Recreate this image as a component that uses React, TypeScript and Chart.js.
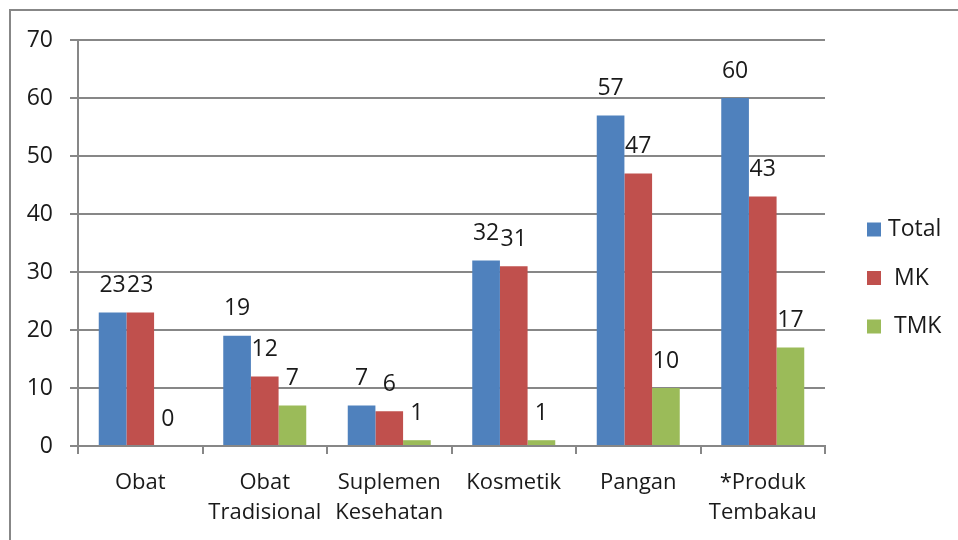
import React, { useEffect, useRef } from "react";
import { Chart, registerables } from "chart.js";

Chart.register(...registerables);

const categories: string[][] = [
  ["Obat"],
  ["Obat", "Tradisional"],
  ["Suplemen", "Kesehatan"],
  ["Kosmetik"],
  ["Pangan"],
  ["*Produk", "Tembakau"],
];
const totalValues = [23, 19, 7, 32, 57, 60];
const mkValues = [23, 12, 6, 31, 47, 43];
const tmkValues = [0, 7, 1, 1, 10, 17];
const seriesLabels = ["Total", " MK", " TMK"];
const seriesColors = ["#4F81BD", "#C0504D", "#9BBB59"];
const yMin = 0;
const yMax = 70;
const yStep = 10;

const FONT = "'Open Sans', 'Noto Sans', sans-serif";
const TEXT = "#1a1a1a";
const GRID = "#878787";

const framePlugin = {
  id: "frame",
  beforeDraw(chart: any) {
    const ctx = chart.ctx;
    ctx.save();
    ctx.strokeStyle = GRID;
    ctx.lineWidth = 2;
    ctx.beginPath();
    ctx.moveTo(10, chart.height);
    ctx.lineTo(10, 10);
    ctx.lineTo(chart.width, 10);
    ctx.stroke();
    ctx.restore();
  },
};

const valueLabelPlugin = {
  id: "valueLabels",
  afterDatasetsDraw(chart: any) {
    const ctx = chart.ctx;
    ctx.save();
    ctx.font = `23px ${FONT}`;
    ctx.fillStyle = TEXT;
    ctx.textAlign = "center";
    ctx.textBaseline = "middle";
    chart.data.datasets.forEach((ds: any, i: number) => {
      const meta = chart.getDatasetMeta(i);
      meta.data.forEach((bar: any, j: number) => {
        ctx.fillText(String(ds.data[j]), bar.x, bar.y - 27);
      });
    });
    ctx.restore();
  },
};

const legendPlugin = {
  id: "customLegend",
  afterDraw(chart: any) {
    const ctx = chart.ctx;
    const area = chart.chartArea;
    ctx.save();
    ctx.font = `23px ${FONT}`;
    ctx.textBaseline = "middle";
    ctx.textAlign = "left";
    chart.data.datasets.forEach((ds: any, i: number) => {
      const y = 229.5 + i * 48.5;
      const x = area.right + 42;
      ctx.fillStyle = ds.backgroundColor;
      ctx.fillRect(x, y - 7, 14, 14);
      ctx.fillStyle = TEXT;
      ctx.fillText(ds.label, x + 21, y);
    });
    ctx.restore();
  },
};

export default function App() {
  const ref = useRef<HTMLCanvasElement | null>(null);
  useEffect(() => {
    if (!ref.current) return;
    const chart = new Chart(ref.current, {
      type: "bar",
      data: {
        labels: categories as any,
        datasets: [totalValues, mkValues, tmkValues].map((d, i) => ({
          label: seriesLabels[i],
          data: d,
          backgroundColor: seriesColors[i],
          borderWidth: 0,
          barPercentage: 1,
          categoryPercentage: 3 / 4.5,
        })),
      },
      options: {
        responsive: false,
        animation: false,
        layout: { padding: { top: 40, right: 133, left: 0, bottom: 0 } },
        plugins: { legend: { display: false }, tooltip: { enabled: false } },
        scales: {
          x: {
            afterFit: (s: any) => {
              s.height = 94;
            },
            grid: {
              drawOnChartArea: false,
              tickLength: 8,
              color: GRID,
              lineWidth: 2,
              offset: true,
            },
            border: { display: true, color: GRID, width: 2 },
            ticks: {
              color: TEXT,
              font: { family: FONT, size: 22, lineHeight: 1.4 },
              padding: 13,
              maxRotation: 0,
              autoSkip: false,
            },
          },
          y: {
            min: yMin,
            max: yMax,
            afterFit: (s: any) => {
              s.width = 78;
            },
            grid: { color: GRID, lineWidth: 2, tickLength: 8 },
            border: { display: true, color: GRID, width: 2 },
            ticks: {
              stepSize: yStep,
              color: TEXT,
              font: { family: FONT, size: 23 },
              padding: 17,
            },
          },
        },
      },
      plugins: [framePlugin, valueLabelPlugin, legendPlugin],
    });
    return () => chart.destroy();
  }, []);
  return (
    <div style={{ position: "fixed", left: 0, top: 0, width: 958, height: 540, background: "#fff" }}>
      <canvas ref={ref} width={958} height={540} style={{ width: 958, height: 540, display: "block" }} />
    </div>
  );
}
